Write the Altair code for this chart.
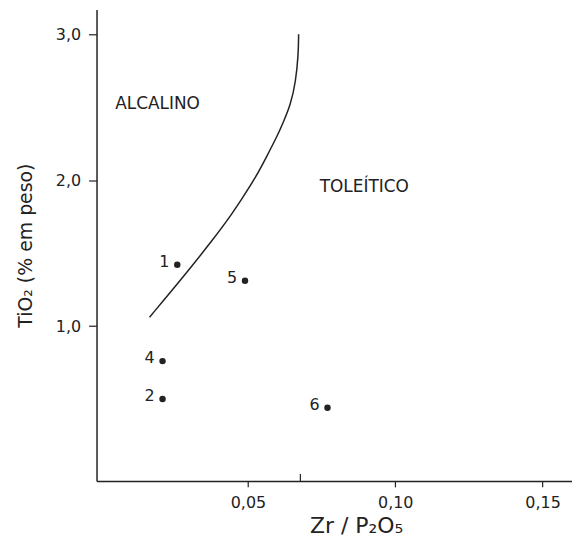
import altair as alt
import pandas as pd

# Boundary curve (alcalino / toleítico)
curve_x = [0.0166, 0.0282, 0.0386, 0.0434, 0.0479, 0.0525, 0.0564, 0.0602, 0.0618, 0.0645, 0.0662, 0.0671, 0.0672]
curve_y = [1.061, 1.340, 1.605, 1.735, 1.871, 2.014, 2.163, 2.313, 2.388, 2.517, 2.673, 2.857, 3.000]

# Samples
sample_id = ["1", "5", "4", "2", "6"]
sample_x = [0.026, 0.049, 0.021, 0.021, 0.077]
sample_y = [1.42, 1.31, 0.76, 0.50, 0.44]

# Field labels
field_name = ["ALCALINO", "TOLEÍTICO"]
field_x = [0.0193, 0.0895]
field_y = [2.52, 1.95]

# Small mark on x axis at the top end of the curve
marker_x = [0.0678]

x_ticks = [0.05, 0.10, 0.15]
y_ticks = [1.0, 2.0, 3.0]

ink = "#222222"
font = "DejaVu Sans"

curve_df = pd.DataFrame({"x": curve_x, "y": curve_y, "i": list(range(len(curve_x)))})
pts_df = pd.DataFrame({"id": sample_id, "x": sample_x, "y": sample_y})
fld_df = pd.DataFrame({"name": field_name, "x": field_x, "y": field_y})
mk_df = pd.DataFrame({"x": marker_x})

xscale = alt.Scale(domain=[-0.0014, 0.1600], nice=False, zero=False)
yscale = alt.Scale(domain=[-0.061, 3.17], nice=False, zero=False)

xaxis = alt.Axis(
    values=x_ticks,
    labelExpr="replace(format(datum.value, '.2f'), '.', ',')",
    title="Zr / P₂O₅",
    titleFontSize=22,
    titleFontWeight="normal",
    titleX=261,
    titlePadding=5,
    tickSize=6,
    labelFontSize=16,
    labelPadding=8,
)
yaxis = alt.Axis(
    values=y_ticks,
    labelExpr="replace(format(datum.value, '.1f'), '.', ',')",
    title="TiO₂ (% em peso)",
    titleFontSize=19,
    titleFontWeight="normal",
    titlePadding=20,
    tickSize=8,
    labelFontSize=16,
    labelPadding=8,
)

line = alt.Chart(curve_df).mark_line(color=ink, strokeWidth=1.5, interpolate="basis").encode(
    x=alt.X("x:Q", scale=xscale, axis=xaxis),
    y=alt.Y("y:Q", scale=yscale, axis=yaxis),
    order="i:Q",
)

points = alt.Chart(pts_df).mark_circle(color=ink, opacity=1, size=42).encode(
    x="x:Q", y="y:Q"
)

point_labels = alt.Chart(pts_df).mark_text(
    align="right", baseline="middle", dx=-8, dy=-3, fontSize=16, font=font, color=ink
).encode(x="x:Q", y="y:Q", text="id:N")

field_labels = alt.Chart(fld_df).mark_text(
    align="center", baseline="middle", fontSize=17, font=font, color=ink
).encode(x="x:Q", y="y:Q", text="name:N")

marker = alt.Chart(mk_df).mark_rule(color=ink, strokeWidth=1.2).encode(
    x="x:Q", y=alt.value(467), y2=alt.value(474)
)

chart = (
    alt.layer(line, marker, points, point_labels, field_labels)
    .properties(
        width=478,
        height=474,
        autosize=alt.AutoSizeParams(type="none"),
        padding={"left": 89, "top": 0, "right": 0, "bottom": 60},
        background="white",
    )
    .configure_view(stroke=None)
    .configure_axis(
        grid=False,
        domainColor=ink,
        domainWidth=1.5,
        tickColor=ink,
        tickWidth=1.2,
        labelColor=ink,
        titleColor=ink,
        labelFont=font,
        titleFont=font,
    )
)

chart.save("out.html", embed_options={"renderer": "svg", "actions": False})
